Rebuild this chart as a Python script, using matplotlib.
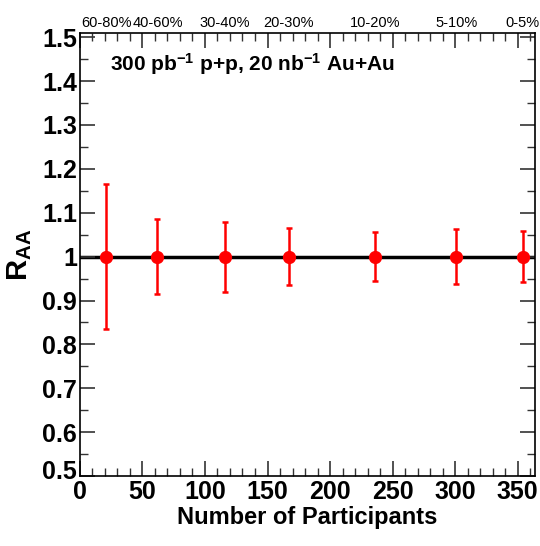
import matplotlib
matplotlib.use("Agg")
from matplotlib import pyplot as plt
from matplotlib.ticker import MultipleLocator
from matplotlib.transforms import ScaledTranslation

plt.rcParams['font.family'] = ['Liberation Sans', 'DejaVu Sans']
plt.rcParams['mathtext.fontset'] = 'custom'
plt.rcParams['mathtext.rm'] = 'Liberation Sans:bold'
plt.rcParams['mathtext.it'] = 'Liberation Sans:bold'
plt.rcParams['mathtext.bf'] = 'Liberation Sans:bold'

# data
npart = [21, 62, 116, 167, 236, 301, 354]
raa = [1.0, 1.0, 1.0, 1.0, 1.0, 1.0, 1.0]
raa_err = [0.166, 0.085, 0.080, 0.065, 0.056, 0.063, 0.058]
centrality = ['60-80%', '40-60%', '30-40%', '20-30%', '10-20%', '5-10%', '0-5%']

fig = plt.figure(figsize=(5.40, 5.46), dpi=100)
ax = fig.add_axes([0.148, 0.128, 0.843, 0.812])

ax.axhline(1.0, color='black', lw=2.5, zorder=1)
ax.errorbar(npart, raa, yerr=raa_err, fmt='o', color='red', ecolor='red',
            markersize=8.5, elinewidth=1.8, capsize=2, capthick=1.8, zorder=3)

ax.set_xlim(0, 364)
ax.set_ylim(0.5, 1.51)
ax.xaxis.set_major_locator(MultipleLocator(50))
ax.xaxis.set_minor_locator(MultipleLocator(10))
ax.yaxis.set_minor_locator(MultipleLocator(0.05))
ax.set_yticks([0.5, 0.6, 0.7, 0.8, 0.9, 1.0, 1.1, 1.2, 1.3, 1.4, 1.5])
ax.set_yticklabels(['0.5', '0.6', '0.7', '0.8', '0.9', '1', '1.1', '1.2', '1.3', '1.4', '1.5'])

ax.tick_params(which='both', direction='in', top=True, right=True, color='#333333')
ax.tick_params(which='major', length=11, width=1.2, labelsize=18, pad=2)
ax.tick_params(axis='x', which='major', pad=3)
ax.tick_params(which='minor', length=6, width=1.0)
for lab in ax.get_xticklabels() + ax.get_yticklabels():
    lab.set_fontweight('bold')
for sp in ax.spines.values():
    sp.set_linewidth(1.2)

# lift the corner "0.5" a bit so it does not sit on the x "0"
fig.canvas.draw()
lab05 = ax.get_yticklabels()[0]
lab05.set_transform(lab05.get_transform() + ScaledTranslation(0, 5 / 72, fig.dpi_scale_trans))

ax.set_xlabel('Number of Participants', fontsize=17, fontweight='bold', labelpad=1)
ax.set_ylabel('R$_{AA}$', fontsize=21, fontweight='bold', labelpad=6)

# centrality labels above the frame
for x, lab in zip(npart, centrality):
    ax.text(x, 1.516, lab, ha='center', va='bottom', fontsize=10.5, clip_on=False)

ax.text(0.065, 0.93, '300 pb$^{-1}$ p+p, 20 nb$^{-1}$ Au+Au', transform=ax.transAxes,
        fontsize=15, fontweight='bold', ha='left', va='center')

fig.savefig('out.png', dpi=100)
